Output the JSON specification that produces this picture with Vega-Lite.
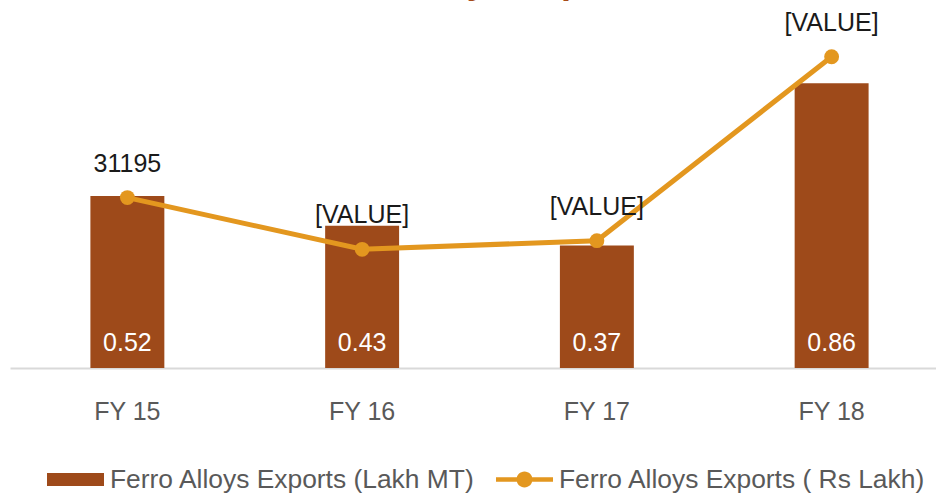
{
  "$schema": "https://vega.github.io/schema/vega-lite/v6.json",
  "width": 939,
  "height": 331,
  "autosize": {"type": "none"},
  "padding": {"left": 10, "top": 37, "right": 0, "bottom": 126},
  "background": "white",
  "title": {
    "text": "Ferro Alloys Exports",
    "fontSize": 36,
    "fontWeight": "bold",
    "color": "#A64B1A",
    "font": "Liberation Sans",
    "anchor": "middle",
    "frame": "group",
    "offset": 0,
    "dy": -10,
    "dx": -5
  },
  "data": {
    "values": [
      {"fy": "FY 15", "mt": 0.52, "rs": 31195, "lbl": "31195"},
      {"fy": "FY 16", "mt": 0.43, "rs": 21730, "lbl": "[VALUE]"},
      {"fy": "FY 17", "mt": 0.37, "rs": 23310, "lbl": "[VALUE]"},
      {"fy": "FY 18", "mt": 0.86, "rs": 56990, "lbl": "[VALUE]"}
    ]
  },
  "config": {
    "view": {"stroke": null},
    "font": "Liberation Sans"
  },
  "encoding": {
    "x": {
      "field": "fy",
      "type": "nominal",
      "sort": null,
      "scale": {"type": "band", "paddingInner": 0.685, "paddingOuter": 0.3425},
      "axis": {
        "title": null,
        "labelAngle": 0,
        "labelFontSize": 25,
        "labelColor": "#595959",
        "labelFont": "Liberation Sans",
        "labelPadding": 31,
        "ticks": false,
        "tickSize": 0,
        "domainColor": "#D9D9D9",
        "domainWidth": 2,
        "grid": false
      }
    }
  },
  "layer": [
    {
      "encoding": {
        "y": {"field": "mt", "type": "quantitative", "scale": {"domain": [0, 1], "nice": false}, "axis": null}
      },
      "layer": [
        {
          "mark": {"type": "bar"},
          "encoding": {
            "color": {
              "datum": "Ferro Alloys Exports (Lakh MT)",
              "scale": {
                "domain": ["Ferro Alloys Exports (Lakh MT)", "Ferro Alloys Exports ( Rs Lakh)"],
                "range": ["#9E4A1A", "#E3971F"]
              },
              "legend": {
                "title": null,
                "orient": "none",
                "direction": "horizontal",
                "legendX": 37,
                "legendY": 414,
                "labelFontSize": 26.4,
                "labelColor": "#595959",
                "labelFont": "Liberation Sans",
                "labelOffset": 6,
                "labelLimit": 0,
                "columnPadding": 20,
                "symbolSize": 3249,
                "padding": 0,
                "encode": {
                  "symbols": {
                    "update": {
                      "shape": {"signal": "datum.label === 'Ferro Alloys Exports (Lakh MT)' ? 'M-1,-0.228H1V0.228H-1Z' : 'M-1,-0.08H1V0.08H-1Z M-0.28,0A0.28,0.28 0 1,1 0.28,0A0.28,0.28 0 1,1 -0.28,0Z'"},
                      "fill": {"scale": "color", "field": "value"},
                      "stroke": {"value": "transparent"},
                      "strokeWidth": {"value": 0},
                      "opacity": {"value": 1},
                      "fillOpacity": {"value": 1}
                    }
                  }
                }
              }
            }
          }
        },
        {
          "mark": {"type": "text", "color": "white", "fontSize": 25, "font": "Liberation Sans", "baseline": "alphabetic", "dy": -17},
          "encoding": {
            "y": {"datum": 0},
            "text": {"field": "mt", "type": "quantitative", "format": ".2f"}
          }
        }
      ]
    },
    {
      "encoding": {
        "y": {"field": "rs", "type": "quantitative", "scale": {"domain": [0, 60600], "nice": false}, "axis": null}
      },
      "layer": [
        {
          "mark": {"type": "line", "strokeWidth": 5, "point": {"filled": true, "size": 220, "opacity": 1}},
          "encoding": {
            "color": {"datum": "Ferro Alloys Exports ( Rs Lakh)"}
          }
        },
        {
          "mark": {"type": "text", "color": "#1A1A1A", "fontSize": 25, "font": "Liberation Sans", "baseline": "middle", "dy": -34},
          "encoding": {
            "text": {"field": "lbl"}
          }
        }
      ]
    }
  ],
  "resolve": {"scale": {"y": "independent"}}
}
